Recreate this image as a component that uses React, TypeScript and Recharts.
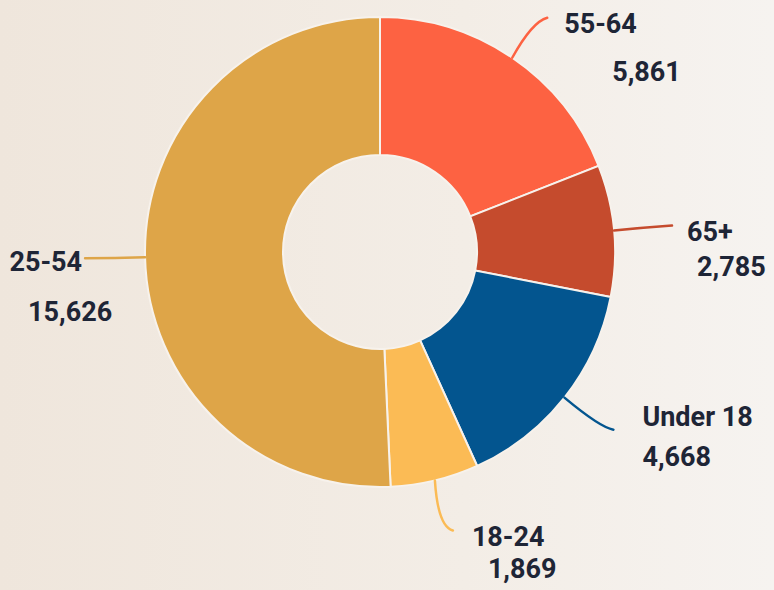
import React from "react";
import { PieChart, Pie, Cell } from "recharts";

const categories = ["55-64", "65+", "Under 18", "18-24", "25-54"];
const values = [5861, 2785, 4668, 1869, 15626];
const valueLabels = ["5,861", "2,785", "4,668", "1,869", "15,626"];
const colors = ["#fd6242", "#c54b2d", "#03558f", "#fbbb55", "#dea548"];

// label layout offsets relative to the point on the outer edge at the slice's mid angle
const labelLayout = [
  { ex: 35, ey: -40, qx: 20, qy: -36, nx: 52, ny: -25, nAnchor: "start", vx: 100, vy: 23, vAnchor: "start" },
  { ex: 58, ey: -5, qx: 30, qy: -3, nx: 73, ny: 10, nAnchor: "start", vx: 83, vy: 45, vAnchor: "start" },
  { ex: 49, ey: 32, qx: 36, qy: 30, nx: 78, ny: 28, nAnchor: "start", vx: 78, vy: 68, vAnchor: "start" },
  { ex: 18, ey: 50, qx: 3, qy: 46, nx: 37, ny: 66, nAnchor: "start", vx: 53, vy: 98, vAnchor: "start" },
  { ex: -60, ey: 1, qx: -30, qy: 1, nx: -63, ny: 14, nAnchor: "end", vx: -117, vy: 64, vAnchor: "start" },
];

const data = categories.map((name, i) => ({ name, value: values[i], label: valueLabels[i] }));

const RAD = Math.PI / 180;

const renderLabel = (props: any) => {
  const { cx, cy, midAngle, outerRadius, index } = props;
  const sx = cx + outerRadius * Math.cos(-midAngle * RAD);
  const sy = cy + outerRadius * Math.sin(-midAngle * RAD);
  const l = labelLayout[index];
  const textStyle = { fontFamily: "Roboto, sans-serif", fontWeight: 700, fontSize: 27, fill: "#1e2536" };
  return (
    <g>
      <path
        d={`M${sx},${sy} Q${sx + l.qx},${sy + l.qy} ${sx + l.ex},${sy + l.ey}`}
        stroke={colors[index]}
        strokeWidth={2.5}
        fill="none"
        strokeLinecap="round"
      />
      <text x={sx + l.nx} y={sy + l.ny} textAnchor={l.nAnchor as any} style={textStyle}>
        {data[index].name}
      </text>
      <text x={sx + l.vx} y={sy + l.vy} textAnchor={l.vAnchor as any} style={textStyle}>
        {data[index].label}
      </text>
    </g>
  );
};

export default function App() {
  return (
    <div
      style={{
        position: "absolute",
        left: 0,
        top: 0,
        width: 774,
        height: 590,
        background: "linear-gradient(to right, #efe6dc, #f3ede6 60%, #f6f3f0)",
        overflow: "hidden",
      }}
    >
      <PieChart width={774} height={590} margin={{ top: 0, right: 0, bottom: 0, left: 0 }}>
        <Pie
          data={data}
          dataKey="value"
          nameKey="name"
          cx={380}
          cy={252}
          innerRadius={97}
          outerRadius={235}
          startAngle={90}
          endAngle={-270}
          stroke="#f7f2ec"
          strokeWidth={2}
          label={renderLabel}
          labelLine={false}
          isAnimationActive={false}
        >
          {data.map((d, i) => (
            <Cell key={d.name} fill={colors[i]} />
          ))}
        </Pie>
      </PieChart>
    </div>
  );
}
